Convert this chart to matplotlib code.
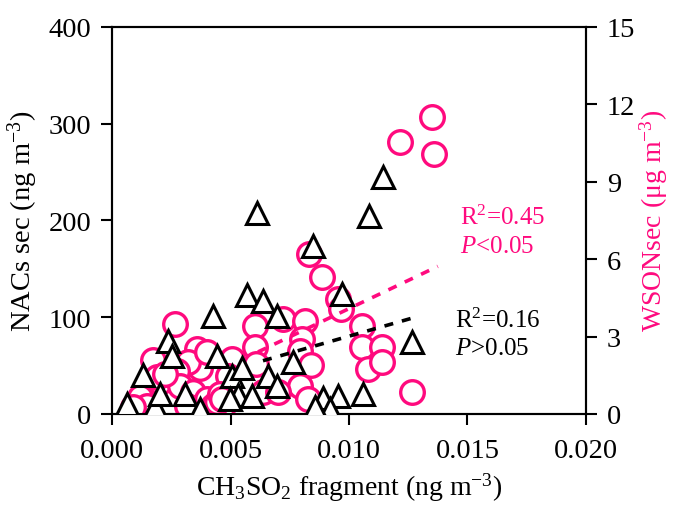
import matplotlib
matplotlib.use("Agg")
import matplotlib.pyplot as plt
import numpy as np

plt.rcParams['font.family'] = ['Liberation Serif', 'DejaVu Serif']
plt.rcParams['mathtext.fontset'] = 'custom'
plt.rcParams['mathtext.rm'] = 'Liberation Serif'
plt.rcParams['mathtext.it'] = 'Liberation Serif:italic'
plt.rcParams['mathtext.bf'] = 'Liberation Serif:bold'

PINK = '#FF0A7E'

# NACs sec vs CH3SO2 fragment (left axis)
nacs_x = [0.01143, 0.00612, 0.01084, 0.00848, 0.00570, 0.00637, 0.00426, 0.00696,
          0.00970, 0.01266, 0.00236, 0.00253, 0.00443, 0.00131, 0.00063, 0.00181,
          0.00506, 0.00764, 0.00658, 0.00549, 0.00532, 0.00591, 0.00890, 0.00954,
          0.01059, 0.00920, 0.00696, 0.00308, 0.00371, 0.00857, 0.00498, 0.00203]
nacs_y = [245, 208, 205, 174, 123, 117, 101, 101,
          124, 74, 75, 60, 60, 40, 10, 8,
          39, 54, 39, 47, 20, 19, 16, 19,
          21, 5, 29, 21, 5, 7, 15, 21]

# WSON sec vs CH3SO2 fragment (right axis)
wson_x = [0.01350, 0.01215, 0.01359, 0.00831, 0.00886, 0.00954, 0.00966, 0.01055,
          0.00722, 0.00814, 0.00603, 0.00266, 0.00603, 0.01055, 0.01139, 0.00802,
          0.00793, 0.00840, 0.01080, 0.01139, 0.01266, 0.00793, 0.00827, 0.00637,
          0.00700, 0.00608, 0.00506, 0.00489, 0.00173, 0.00359, 0.00371, 0.00203,
          0.00118, 0.00131, 0.00190, 0.00321, 0.00274, 0.00287, 0.00342, 0.00316,
          0.00401, 0.00426, 0.00468, 0.00443, 0.00148, 0.00089, 0.00401, 0.00224,
          0.00456, 0.00464]
wson_y = [11.51, 10.54, 10.08, 6.20, 5.31, 4.46, 4.07, 3.41,
          3.68, 3.60, 3.41, 3.49, 2.60, 2.60, 2.60, 2.91,
          2.44, 1.90, 1.74, 2.02, 0.85, 1.09, 0.58, 0.85,
          0.85, 1.94, 2.13, 1.47, 2.09, 2.52, 1.78, 1.24,
          0.66, 0.19, 1.43, 2.02, 1.67, 1.09, 0.85, 0.31,
          0.58, 0.31, 0.31, 0.47, 0.31, 0.27, 2.40, 1.55,
          0.78, 0.58]

# Linear fits: slope, intercept, x range
nacs_fit = (6995.0, 10.4, (0.00637, 0.01266))
wson_fit = (437.0, -0.29, (0.00616, 0.01375))

fig = plt.figure(figsize=(6.75, 5.06), dpi=100)
ax = fig.add_axes([0.166, 0.180, 0.702, 0.765])
ax2 = ax.twinx()

ax.plot(nacs_x, nacs_y, linestyle='none', marker='^', markersize=16,
        markerfacecolor='white', markeredgecolor='black', markeredgewidth=2.2,
        zorder=3)
fx = np.array(nacs_fit[2])
ax.plot(fx, nacs_fit[0] * fx + nacs_fit[1], color='black', lw=2.6,
        linestyle=(0, (2.5, 2.5)), zorder=4)

ax2.plot(wson_x, wson_y, linestyle='none', marker='o', markersize=17,
         markerfacecolor='white', markeredgecolor=PINK, markeredgewidth=2.4,
         zorder=3)
gx = np.array(wson_fit[2])
ax2.plot(gx, wson_fit[0] * gx + wson_fit[1], color=PINK, lw=2.6,
         linestyle=(0, (2.5, 2.5)), zorder=4)

ax.set_zorder(ax2.get_zorder() + 1)
ax.patch.set_visible(False)

ax.set_xlim(0, 0.020)
ax.set_ylim(0, 400)
ax2.set_ylim(0, 15)
ax.set_xticks([0.000, 0.005, 0.010, 0.015, 0.020])
ax.set_xticklabels(['0.000', '0.005', '0.010', '0.015', '0.020'])
ax.set_yticks([0, 100, 200, 300, 400])
ax2.set_yticks([0, 3, 6, 9, 12, 15])

for a in (ax, ax2):
    for s in a.spines.values():
        s.set_linewidth(1.5)
    a.tick_params(direction='out', length=8, width=1.5, labelsize=20.5, pad=7)
ax.tick_params(axis='x', pad=9)

ax.set_xlabel('CH$_3$SO$_2$ fragment (ng m$^{-3}$)', fontsize=20, labelpad=6)
ax.set_ylabel('NACs sec (ng m$^{-3}$)', fontsize=20.5, labelpad=6)
ax2.set_ylabel('WSONsec (\u03bcg m$^{-3}$)', fontsize=20, color=PINK, labelpad=2)

ax.text(0.01468, 204, 'R$^2$=0.45', color=PINK, fontsize=18, va='center')
ax.text(0.01468, 174, '$P$<0.05', color=PINK, fontsize=18, va='center')
ax.text(0.01447, 97, 'R$^2$=0.16', color='black', fontsize=18, va='center')
ax.text(0.01447, 68, '$P$>0.05', color='black', fontsize=18, va='center')

fig.savefig('out.png', dpi=100)
